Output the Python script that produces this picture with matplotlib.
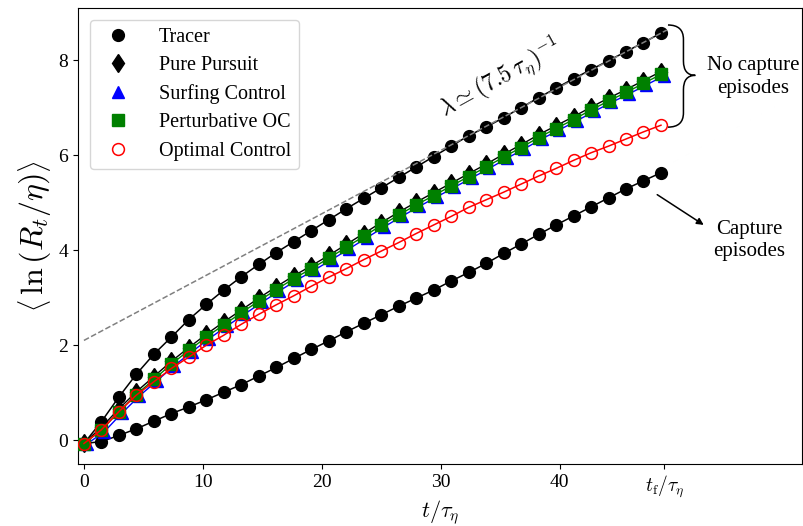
import numpy as np
import matplotlib
matplotlib.use('Agg')
import matplotlib.pyplot as plt
from matplotlib.path import Path
from matplotlib.patches import PathPatch

plt.rcParams['font.family'] = 'serif'
plt.rcParams['font.serif'] = ['Liberation Serif', 'DejaVu Serif']
plt.rcParams['mathtext.fontset'] = 'cm'

# sampling times (t / tau_eta)
t = np.arange(34) * 1.47

tracer_free = [-0.07, 0.39, 0.91, 1.39, 1.81, 2.17, 2.54, 2.86, 3.16, 3.44, 3.70, 3.95,
               4.18, 4.41, 4.64, 4.87, 5.09, 5.31, 5.53, 5.75, 5.97, 6.19, 6.41, 6.59,
               6.79, 7.00, 7.21, 7.41, 7.61, 7.80, 7.99, 8.18, 8.37, 8.57]
pure_pursuit = [-0.06, 0.27, 0.66, 1.02, 1.34, 1.66, 1.95, 2.23, 2.49, 2.74, 2.99, 3.23,
                3.46, 3.67, 3.89, 4.12, 4.35, 4.58, 4.80, 5.01, 5.21, 5.41, 5.61, 5.81,
                6.02, 6.22, 6.43, 6.62, 6.81, 7.01, 7.20, 7.38, 7.57, 7.76]
surfing = [-0.08, 0.18, 0.57, 0.93, 1.25, 1.57, 1.86, 2.14, 2.40, 2.65, 2.90, 3.14,
           3.37, 3.58, 3.80, 4.03, 4.26, 4.49, 4.71, 4.92, 5.12, 5.32, 5.52, 5.72,
           5.93, 6.13, 6.34, 6.53, 6.72, 6.92, 7.11, 7.29, 7.48, 7.67]
perturbative = [-0.07, 0.21, 0.60, 0.96, 1.28, 1.60, 1.89, 2.17, 2.43, 2.68, 2.93, 3.17,
                3.40, 3.61, 3.83, 4.06, 4.29, 4.52, 4.74, 4.95, 5.15, 5.35, 5.55, 5.75,
                5.96, 6.16, 6.37, 6.56, 6.75, 6.95, 7.14, 7.32, 7.51, 7.70]
optimal = [-0.07, 0.22, 0.60, 0.95, 1.23, 1.51, 1.75, 2.00, 2.21, 2.44, 2.65, 2.85,
           3.04, 3.24, 3.43, 3.61, 3.80, 3.98, 4.16, 4.35, 4.53, 4.71, 4.90, 5.06,
           5.22, 5.39, 5.56, 5.72, 5.89, 6.05, 6.19, 6.34, 6.49, 6.63]
tracer_capture = [-0.07, -0.03, 0.10, 0.24, 0.40, 0.56, 0.70, 0.85, 1.01, 1.17, 1.35, 1.53,
                  1.72, 1.91, 2.09, 2.28, 2.46, 2.64, 2.82, 2.99, 3.16, 3.35, 3.53, 3.72,
                  3.93, 4.13, 4.33, 4.53, 4.72, 4.91, 5.10, 5.29, 5.46, 5.63]

# surfing markers sit a bit to the right of the others
surf_shift = 0.25

# asymptotic growth: lambda ~ (7.5 tau_eta)^-1
fit_t = [0, 49]
fit_intercept = 2.1
fit_tau = 7.5

t_final = 48.8
xticks = [0, 10, 20, 30, 40, t_final]
xticklabels = ['0', '10', '20', '30', '40', r'$t_{\rm f}/\tau_\eta$']
yticks = [0, 2, 4, 6, 8]

fig = plt.figure(figsize=(8.04, 5.26), dpi=100)
ax = fig.add_axes([0.097, 0.118, 0.901, 0.867])

ms = 8.5
ax.plot(t, tracer_free, '-', color='black', lw=1.1, zorder=2)
ax.plot(t, tracer_free, 'o', color='black', ms=ms, zorder=3, label='Tracer')
ax.plot(t, tracer_capture, '-', color='black', lw=1.1, zorder=2)
ax.plot(t, tracer_capture, 'o', color='black', ms=ms, zorder=3)

ax.plot(t, pure_pursuit, '-', color='black', lw=1.0, zorder=2)
ax.plot(t, pure_pursuit, 'd', color='black', ms=9.5, zorder=3, label='Pure Pursuit')
ax.plot(t + surf_shift, surfing, '-', color='blue', lw=1.0, zorder=2)
ax.plot(t + surf_shift, surfing, '^', color='blue', ms=8, zorder=4, label='Surfing Control')
ax.plot(t, perturbative, '-', color='green', lw=1.0, zorder=2)
ax.plot(t, perturbative, 's', color='green', ms=8, zorder=5, label='Perturbative OC')
ax.plot(t, optimal, '-', color='red', lw=1.1, zorder=6)
ax.plot(t, optimal, 'o', mfc='none', mec='red', mew=1.1, ms=8.5, zorder=6,
        label='Optimal Control')

fit_y = [fit_intercept + x / fit_tau for x in fit_t]
ax.plot(fit_t, fit_y, '--', color='gray', lw=1.1, zorder=7)
ax.text(35.0, 7.62, r'$\lambda \simeq (7.5\,\tau_\eta)^{-1}$', fontsize=17,
        rotation=29, ha='center', va='center', rotation_mode='anchor')

# curly brace for the no-capture group
x0, xm, xt = 49.1, 50.4, 51.4
yt, ym, yb, r = 8.74, 7.68, 6.59, 0.3
verts = [(x0, yt), (xm, yt), (xm, yt - r), (xm, ym + r), (xm, ym), (xt, ym),
         (xm, ym), (xm, ym - r), (xm, yb + r), (xm, yb), (x0, yb)]
codes = [Path.MOVETO, Path.CURVE3, Path.CURVE3, Path.LINETO, Path.CURVE3, Path.CURVE3,
         Path.CURVE3, Path.CURVE3, Path.LINETO, Path.CURVE3, Path.CURVE3]
ax.add_patch(PathPatch(Path(verts, codes), fill=False, lw=1.1, color='black'))
ax.text(56.3, 7.65, 'No capture\nepisodes', fontsize=15, ha='center', va='center',
        linespacing=1.25)

ax.annotate('', xy=(52.3, 4.5), xytext=(48.0, 5.2),
            arrowprops=dict(arrowstyle='-|>', color='black', lw=1.1))
ax.text(55.9, 4.2, 'Capture\nepisodes', fontsize=15, ha='center', va='center',
        linespacing=1.25)

ax.set_xlim(-0.5, 60.4)
ax.set_ylim(-0.5, 9.1)
ax.set_xticks(xticks)
ax.set_xticklabels(xticklabels)
ax.set_yticks(yticks)
ax.tick_params(labelsize=14)
ax.set_xlabel(r'$t/\tau_\eta$', fontsize=16, labelpad=-1)
ax.set_ylabel(r'$\left\langle\, \ln\left(R_t/\eta\right) \right\rangle$', fontsize=23,
              labelpad=4)

ax.legend(loc='upper left', fontsize=14.5, numpoints=1, borderaxespad=0.6,
          labelspacing=0.45, handletextpad=1.0)

fig.savefig('out.png', dpi=100)
